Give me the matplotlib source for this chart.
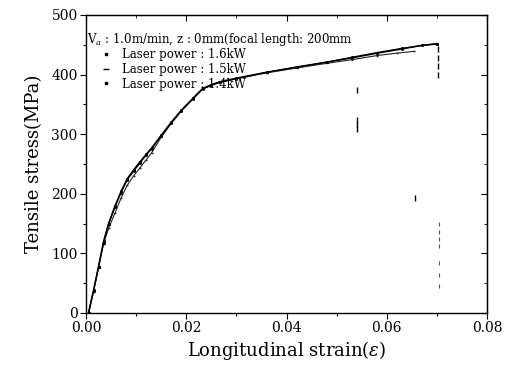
import matplotlib
matplotlib.use("Agg")
import matplotlib.pyplot as plt
from matplotlib.lines import Line2D

# ---- data ----
strain_16 = [0.0005, 0.0015, 0.0025, 0.0035, 0.0045, 0.0058, 0.0070, 0.0082, 0.0095, 0.0108,
             0.0120, 0.0131, 0.0150, 0.0170, 0.0190, 0.0213, 0.0233, 0.0250, 0.0267, 0.0300,
             0.0361, 0.0420, 0.0481, 0.0530, 0.0581, 0.0630, 0.0670, 0.0700]
stress_16 = [0, 38, 78, 120, 150, 180, 204, 225, 240, 254,
             266, 277, 298, 320, 340, 360, 377, 383, 388, 394,
             404, 412, 421, 428, 436, 443, 449, 452]

strain_15 = [0.0005, 0.0015, 0.0025, 0.0035, 0.0045, 0.0058, 0.0070, 0.0082, 0.0095, 0.0108,
             0.0120, 0.0131, 0.0150, 0.0170, 0.0190, 0.0213, 0.0233, 0.0250, 0.0267, 0.0300,
             0.0361, 0.0420, 0.0481, 0.0530, 0.0581, 0.0620, 0.0655]
stress_15 = [0, 36, 76, 116, 142, 168, 193, 214, 230, 244,
             257, 269, 295, 318, 339, 359, 376, 382, 387, 393,
             403, 411, 419, 425, 432, 436, 439]

strain_14 = [0.0005, 0.0015, 0.0025, 0.0035, 0.0045, 0.0058, 0.0070, 0.0082, 0.0095, 0.0108,
             0.0120, 0.0131, 0.0150, 0.0170, 0.0190, 0.0213, 0.0233, 0.0250, 0.0267, 0.0300,
             0.0361, 0.0420, 0.0481, 0.0530, 0.0581, 0.0630, 0.0670, 0.0700]
stress_14 = [0, 37, 77, 118, 149, 178, 202, 223, 238, 252,
             265, 276, 297, 319, 339, 359, 376, 382, 387, 393,
             404, 413, 421, 429, 437, 444, 449, 451]

# scattered points recorded after fracture
frac_strain_16 = [0.0702, 0.0702, 0.0702, 0.0702]
frac_stress_16 = [443, 428, 414, 400]
frac_strain_15 = [0.0540, 0.0540, 0.0540, 0.0540, 0.0656]
frac_stress_15 = [374, 324, 316, 308, 193]
frac_strain_14 = [0.0704, 0.0704, 0.0704, 0.0704, 0.0704, 0.0704, 0.0704]
frac_stress_14 = [150, 136, 124, 112, 84, 64, 46]

header = "V$_{a}$ : 1.0m/min, z : 0mm(focal length: 200mm"
labels = ["Laser power : 1.6kW", "Laser power : 1.5kW", "Laser power : 1.4kW"]

x_ticks = [0.00, 0.02, 0.04, 0.06, 0.08]
x_ticklabels = ["0.00", "0.02", "0.04", "0.06", "0.08"]
y_ticks = [0, 100, 200, 300, 400, 500]

# ---- figure ----
plt.rcParams['font.family'] = ['DejaVu Serif']
plt.rcParams['mathtext.fontset'] = 'dejavuserif'
fig = plt.figure(figsize=(5.09, 3.65), dpi=100)
ax = fig.add_axes([86/509, 1-313/365, (487-86)/509, (313-15)/365])

ax.plot(strain_16, stress_16, color='black', lw=1.1, marker='s', ms=1.0)
ax.plot(strain_15, stress_15, color='#222222', lw=0.8, marker='_', ms=2)
ax.plot(strain_14, stress_14, color='black', lw=0.9, marker='s', ms=1.0)

ax.plot(frac_strain_16, frac_stress_16, ls='none', marker='|', ms=4, mew=1.0, color='black')
ax.plot(frac_strain_15, frac_stress_15, ls='none', marker='|', ms=4, mew=1.0, color='black')
ax.plot(frac_strain_14, frac_stress_14, ls='none', marker='|', ms=3, mew=0.8, color='#555555')

ax.set_xlim(0, 0.08)
ax.set_ylim(0, 500)
ax.set_xticks(x_ticks)
ax.set_xticklabels(x_ticklabels)
ax.set_yticks(y_ticks)
ax.set_xticks([0.01, 0.03, 0.05, 0.07], minor=True)
ax.set_yticks([50, 150, 250, 350, 450], minor=True)
ax.tick_params(direction='out', length=4, width=0.8, labelsize=10, pad=2)
ax.tick_params(which='minor', direction='out', length=2.5, width=0.8)
for s in ax.spines.values():
    s.set_linewidth(1.0)

top = ax.secondary_xaxis('top')
top.set_xticks(x_ticks)
top.set_xticks([0.01, 0.03, 0.05, 0.07], minor=True)
top.tick_params(direction='in', length=4, labeltop=False)
top.tick_params(which='minor', direction='in', length=2.5)
right = ax.secondary_yaxis('right')
right.set_yticks(y_ticks)
right.set_yticks([50, 150, 250, 350, 450], minor=True)
right.tick_params(direction='in', length=4, labelright=False)
right.tick_params(which='minor', direction='in', length=2.5)

ax.set_xlabel("Longitudinal strain($\\varepsilon$)", fontsize=13, labelpad=3)
ax.set_ylabel("Tensile stress(MPa)", fontsize=13, labelpad=6)

ax.text(0.003, 0.945, header, transform=ax.transAxes, fontsize=8.5, va='top', ha='left')
handles = [Line2D([], [], ls='none', marker='s', ms=1.8, color='black'),
           Line2D([], [], ls='none', marker='_', ms=4, color='black'),
           Line2D([], [], ls='none', marker='s', ms=1.8, color='black')]
ax.legend(handles, labels, loc='upper left', bbox_to_anchor=(0.02, 0.905), frameon=False,
          fontsize=8.5, handlelength=1.2, handletextpad=0.8, labelspacing=0.15,
          borderaxespad=0, numpoints=1)

fig.savefig("out.png", dpi=100)
